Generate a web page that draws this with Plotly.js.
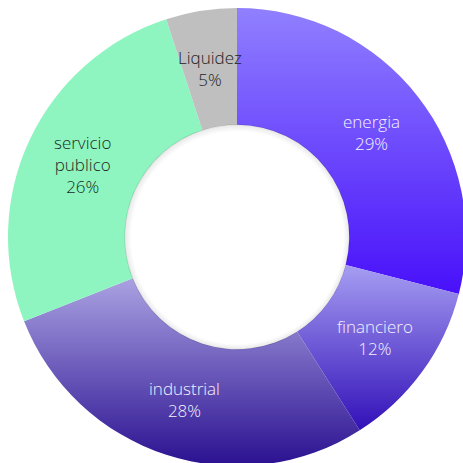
<!DOCTYPE html>
<html>
<head>
<meta charset="utf-8">
<script src="https://cdn.plot.ly/plotly-3.0.1.min.js"></script>
<style>
html,body{margin:0;padding:0;overflow:hidden;background:#fff;}
#chart{width:466px;height:466px;}
</style>
</head>
<body>
<div id="chart"></div>
<script>
// Data
const labels = ['energia', 'financiero', 'industrial', 'servicio publico', 'Liquidez'];
const values = [29, 12, 28, 26, 5];
const baseColors = ['#6f50ff', '#6e5ad8', '#6a5cc0', '#8ef5c0', '#bfbfbf'];
const gradTop = ['#9080ff', '#a69ef2', '#aaa2e2', '#8ef5c0', '#bfbfbf'];
const gradBottom = ['#4810fa', '#3210b8', '#2a1090', '#8ef5c0', '#bfbfbf'];
const textColors = ['#f4f2ff', '#f4f2ff', '#f4f2ff', '#1a2b22', '#1e1e1e'];

const hole = 0.49;
const total = values.reduce((a, b) => a + b, 0);

const cx = 0.5, cy = 0.5;
const rMid = 0.5 * (1 + hole) / 2;
let cum = 0;
const annotations = values.map((v, i) => {
  const mid = (cum + v / 2) / total;
  cum += v;
  const ang = mid * 2 * Math.PI;
  return {
    x: cx + rMid * Math.sin(ang),
    y: cy + rMid * Math.cos(ang),
    xref: 'paper', yref: 'paper',
    text: labels[i].replace(' ', '<br>') + '<br>' + Math.round(v / total * 100) + '%',
    showarrow: false,
    font: {family: '"Open Sans", Lato, sans-serif', size: 17, color: textColors[i], weight: 300},
    xanchor: 'center', yanchor: 'middle', align: 'center'
  };
});

const trace = {
  type: 'pie',
  labels: labels,
  values: values,
  hole: hole,
  sort: false,
  direction: 'clockwise',
  rotation: 0,
  textinfo: 'none',
  marker: {colors: baseColors, line: {width: 0}},
  domain: {x: [0, 1], y: [0, 1]},
  hoverinfo: 'label+percent'
};

const layout = {
  width: 466, height: 466,
  margin: {l: 8, r: 0, t: 8, b: 0},
  showlegend: false,
  paper_bgcolor: '#ffffff',
  annotations: annotations
};

Plotly.newPlot('chart', [trace], layout, {displayModeBar: false, staticPlot: true}).then(gd => {
  const svg = gd.querySelector('svg.main-svg');
  const defs = svg.querySelector('defs');
  const ns = 'http://www.w3.org/2000/svg';
  gradTop.forEach((c, i) => {
    const lg = document.createElementNS(ns, 'linearGradient');
    lg.setAttribute('id', 'sliceGrad' + i);
    lg.setAttribute('x1', '0'); lg.setAttribute('y1', '0');
    lg.setAttribute('x2', '0'); lg.setAttribute('y2', '1');
    [[0, c], [1, gradBottom[i]]].forEach(([o, col]) => {
      const s = document.createElementNS(ns, 'stop');
      s.setAttribute('offset', o); s.setAttribute('stop-color', col);
      lg.appendChild(s);
    });
    defs.appendChild(lg);
  });
  gd.querySelectorAll('.slice path.surface').forEach((p, i) => {
    p.style.fill = 'url(#sliceGrad' + i + ')';
  });
  // very soft inner shadow around the hole, stronger at top-left
  const sz = gd._fullLayout._size;
  const R = Math.min(sz.w, sz.h) / 2;
  const hx = sz.l + sz.w / 2, hy = sz.t + sz.h / 2;
  const rg = document.createElementNS(ns, 'radialGradient');
  rg.setAttribute('id', 'holeShadow');
  rg.setAttribute('cx', '0.5'); rg.setAttribute('cy', '0.5'); rg.setAttribute('r', '0.5');
  rg.setAttribute('fx', '0.54'); rg.setAttribute('fy', '0.56');
  [[0, 0], [0.94, 0], [0.985, 0.07], [1, 0.16]].forEach(([o, op]) => {
    const s = document.createElementNS(ns, 'stop');
    s.setAttribute('offset', o); s.setAttribute('stop-color', '#000'); s.setAttribute('stop-opacity', op);
    rg.appendChild(s);
  });
  defs.appendChild(rg);
  const circ = document.createElementNS(ns, 'circle');
  circ.setAttribute('cx', hx); circ.setAttribute('cy', hy); circ.setAttribute('r', R * hole + 0.5);
  circ.setAttribute('fill', 'url(#holeShadow)');
  svg.querySelector('.pielayer').appendChild(circ);
});
</script>
</body>
</html>
